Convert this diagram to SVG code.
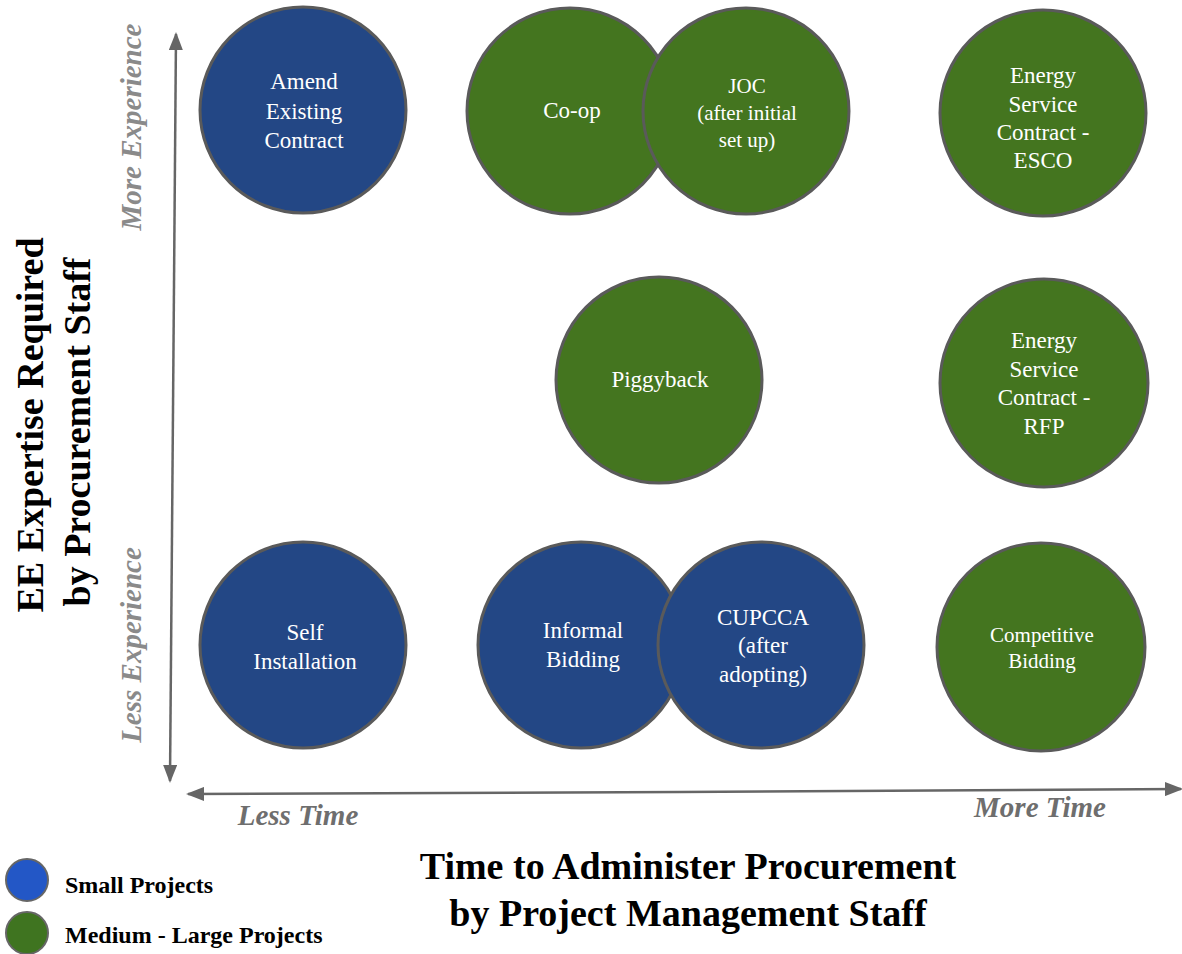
<svg xmlns="http://www.w3.org/2000/svg" width="1182" height="954" viewBox="0 0 1182 954">
  <defs>
    <marker id="arrowhead" viewBox="0 0 18 14" refX="16" refY="7" markerWidth="18" markerHeight="14" markerUnits="userSpaceOnUse" orient="auto">
      <path d="M0,0 L18,7 L0,14 Z" fill="#666666"/>
    </marker>
    <style>
      .bubble { stroke: #5a5a5a; stroke-width: 3; }
      .small { fill: #234785; }
      .large { fill: #44751f; }
      .cap { font-family: "Liberation Serif", "Times New Roman", serif; font-size: 23px; fill: #ffffff; text-anchor: middle; }
      .cap.tight { font-size: 21px; }
      .axis { stroke: #666666; stroke-width: 2.5; fill: none; }
      .pole { font-family: "Liberation Serif", "Times New Roman", serif; font-size: 29px; font-weight: bold; font-style: italic; text-anchor: middle; }
      .title { font-family: "Liberation Serif", "Times New Roman", serif; font-size: 38px; font-weight: bold; fill: #000000; text-anchor: middle; }
      .legend-text { font-family: "Liberation Serif", "Times New Roman", serif; font-size: 24px; font-weight: bold; fill: #000000; }
      .legend-dot { stroke: #666666; stroke-width: 2; }
    </style>
  </defs>
  <rect width="1182" height="954" fill="#ffffff"/>

  <!-- axes -->
  <g id="connectors">
    <line class="axis" x1="173" y1="410" x2="176" y2="34" marker-end="url(#arrowhead)"/>
    <line class="axis" x1="173" y1="410" x2="170" y2="781" marker-end="url(#arrowhead)"/>
    <line class="axis" x1="680" y1="792" x2="188" y2="794" marker-end="url(#arrowhead)"/>
    <line class="axis" x1="680" y1="792" x2="1181" y2="789" marker-end="url(#arrowhead)"/>
  </g>

  <!-- axis pole labels -->
  <g id="axis-poles">
    <text class="pole" fill="#8a8a8a" transform="translate(141,127) rotate(-90)">More Experience</text>
    <text class="pole" fill="#8a8a8a" transform="translate(141,645) rotate(-90)">Less Experience</text>
    <text class="pole" fill="#6e6e6e" x="298" y="825">Less Time</text>
    <text class="pole" fill="#6e6e6e" x="1040" y="817">More Time</text>
  </g>

  <!-- axis titles -->
  <g id="y-title">
    <text class="title" transform="translate(43,425) rotate(-90)">EE Expertise Required</text>
    <text class="title" transform="translate(90,432) rotate(-90)">by Procurement Staff</text>
  </g>
  <g id="x-title">
    <text class="title" x="688" y="879">Time to Administer Procurement</text>
    <text class="title" x="688" y="926">by Project Management Staff</text>
  </g>

  <!-- top row -->
  <g id="amend-existing-contract">
    <circle class="bubble small" cx="303" cy="110" r="103"/>
    <text class="cap" x="304" y="89">Amend</text>
    <text class="cap" x="304" y="119">Existing</text>
    <text class="cap" x="304" y="148">Contract</text>
  </g>
  <g id="co-op">
    <circle class="bubble large" cx="570" cy="111" r="103"/>
    <text class="cap" x="572" y="118">Co-op</text>
  </g>
  <g id="joc">
    <circle class="bubble large" cx="746" cy="111" r="103"/>
    <text class="cap tight" x="747" y="93">JOC</text>
    <text class="cap tight" x="747" y="120">(after initial</text>
    <text class="cap tight" x="747" y="147">set up)</text>
  </g>
  <g id="esco">
    <circle class="bubble large" cx="1043" cy="113" r="103"/>
    <text class="cap" x="1043" y="83">Energy</text>
    <text class="cap" x="1043" y="112">Service</text>
    <text class="cap" x="1043" y="140">Contract -</text>
    <text class="cap" x="1043" y="168">ESCO</text>
  </g>

  <!-- middle row -->
  <g id="piggyback">
    <circle class="bubble large" cx="659" cy="380" r="103"/>
    <text class="cap" x="660" y="387">Piggyback</text>
  </g>
  <g id="rfp">
    <circle class="bubble large" cx="1044" cy="383" r="104"/>
    <text class="cap" x="1044" y="348">Energy</text>
    <text class="cap" x="1044" y="377">Service</text>
    <text class="cap" x="1044" y="405">Contract -</text>
    <text class="cap" x="1044" y="434">RFP</text>
  </g>

  <!-- bottom row -->
  <g id="self-installation">
    <circle class="bubble small" cx="303" cy="645" r="103"/>
    <text class="cap" x="305" y="640">Self</text>
    <text class="cap" x="305" y="669">Installation</text>
  </g>
  <g id="informal-bidding">
    <circle class="bubble small" cx="581" cy="645" r="103"/>
    <text class="cap" x="583" y="638">Informal</text>
    <text class="cap" x="583" y="667">Bidding</text>
  </g>
  <g id="cupcca">
    <circle class="bubble small" cx="761" cy="645" r="103"/>
    <text class="cap" x="763" y="625">CUPCCA</text>
    <text class="cap" x="763" y="653">(after</text>
    <text class="cap" x="763" y="682">adopting)</text>
  </g>
  <g id="competitive-bidding">
    <circle class="bubble large" cx="1041" cy="647" r="104"/>
    <text class="cap tight" x="1042" y="642">Competitive</text>
    <text class="cap tight" x="1042" y="668">Bidding</text>
  </g>

  <!-- legend -->
  <g id="legend">
    <circle class="legend-dot" cx="27" cy="880" r="21" fill="#2357c6"/>
    <text class="legend-text" x="65" y="893">Small Projects</text>
    <circle class="legend-dot" cx="27" cy="933" r="21" fill="#3f7420"/>
    <text class="legend-text" x="65" y="943">Medium - Large Projects</text>
  </g>
</svg>
